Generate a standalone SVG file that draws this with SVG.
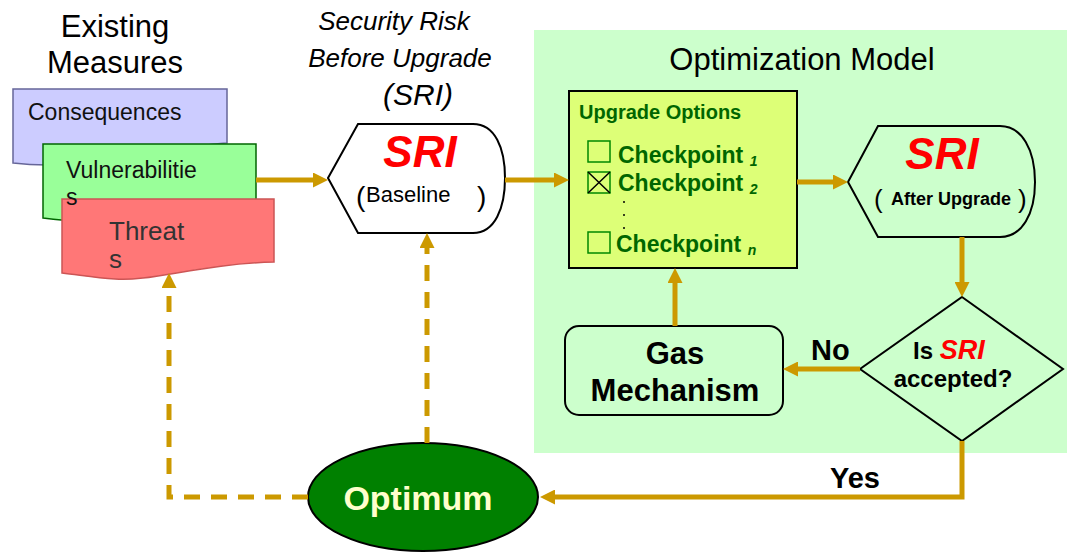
<svg xmlns="http://www.w3.org/2000/svg" width="1067" height="552" viewBox="0 0 1067 552">
<style>
text{font-family:"Liberation Sans",Arial,sans-serif}
.b{font-weight:bold}
.i{font-style:italic}
.red{fill:#ff0000;font-weight:bold;font-style:italic}
.dg{fill:#006600;font-weight:bold}
.conn{fill:none;stroke:#cc9900;stroke-width:5}
.dash{stroke-dasharray:16 11}
.ol{stroke:#000;stroke-width:2}
</style>
<defs>
<marker id="ah" viewBox="0 0 10 10" markerUnits="userSpaceOnUse" markerWidth="15" markerHeight="15" refX="2" refY="5" orient="auto">
<path d="M0,0 L10,5 L0,10 Z" fill="#cc9900"/>
</marker>
</defs>
<rect width="1067" height="552" fill="#ffffff"/>
<rect id="opt-bg" x="534" y="30" width="533" height="423" fill="#ccffcc"/>
<text x="802" y="70" font-size="31" text-anchor="middle" fill="#000">Optimization Model</text>

<g id="title-existing">
<text x="115" y="37" font-size="31" text-anchor="middle">Existing</text>
<text x="115" y="73" font-size="31" text-anchor="middle">Measures</text>
</g>
<g id="title-sri">
<text x="394" y="30" font-size="26" class="i" text-anchor="middle">Security Risk</text>
<text x="400" y="67" font-size="26" class="i" text-anchor="middle">Before Upgrade</text>
<text x="418" y="105" font-size="30" class="i" text-anchor="middle">(SRI)</text>
</g>

<g id="consequences">
<path d="M13,89 H227 V143 C160,147 90,172 13,163 Z" fill="#ccccff" stroke="#666699" stroke-width="1.5"/>
<text x="28" y="120" font-size="23" fill="#111">Consequences</text>
</g>
<g id="vulnerabilities">
<path d="M43,144 H256 V208 C180,210 110,228 43,218 Z" fill="#99ff99" stroke="#006600" stroke-width="1.5"/>
</g>
<g id="threats">
<path d="M62,199 H274 V262 C200,264 150,282 115,279 C95,278 80,275 62,273 Z" fill="#ff7777" stroke="#cc5555" stroke-width="1.5"/>
<text x="109" y="240" font-size="26" fill="#333">Threat</text>
<text x="109" y="268" font-size="26" fill="#333">s</text>
</g>
<g id="vulnerabilities-label">
<text x="66" y="178" font-size="23" fill="#111">Vulnerabilitie</text>
<text x="66" y="205" font-size="23" fill="#111">s</text>
</g>

<g id="sri-baseline">
<path d="M328,178 L358,124 H473 C495,124 505,148 505,178 C505,208 495,233 473,233 H358 Z" fill="#ffffff" class="ol"/>
<text x="420" y="167" font-size="44" class="red" text-anchor="middle">SRI</text>
<text x="356" y="206" font-size="28">(</text>
<text x="366" y="202" font-size="22">Baseline</text>
<text x="477" y="206" font-size="28">)</text>
</g>

<g id="upgrade-options">
<rect x="569" y="91" width="228" height="177" fill="#ddff77" class="ol"/>
<text x="579" y="119" font-size="20" class="dg">Upgrade Options</text>
<rect x="588" y="141" width="22" height="21" fill="none" stroke="#008800" stroke-width="1.5"/>
<rect x="588" y="172" width="22" height="21" fill="none" stroke="#008800" stroke-width="1.5"/>
<path d="M588,172 L610,193 M610,172 L588,193" stroke="#000" stroke-width="1.5"/>
<rect x="588" y="232" width="22" height="21" fill="none" stroke="#008800" stroke-width="1.5"/>
<text x="618" y="163" font-size="23" class="dg">Checkpoint <tspan font-size="14" font-style="italic" dy="3">1</tspan></text>
<text x="618" y="191" font-size="23" class="dg">Checkpoint <tspan font-size="14" font-style="italic" dy="3">2</tspan></text>
<text x="616" y="252" font-size="23" class="dg">Checkpoint <tspan font-size="14" font-style="italic" dy="3">n</tspan></text>
<circle cx="624" cy="202" r="1" fill="#000"/>
<circle cx="624" cy="215" r="1" fill="#000"/>
<circle cx="624" cy="228" r="1" fill="#000"/>
</g>

<g id="sri-after">
<path d="M848,182 L878,126 H1000 C1022,126 1035,150 1035,182 C1035,214 1022,237 1000,237 H878 Z" fill="#ccffcc" class="ol"/>
<text x="942" y="169" font-size="44" class="red" text-anchor="middle">SRI</text>
<text x="874" y="208" font-size="26">(</text>
<text x="951" y="205" font-size="18" class="b" text-anchor="middle">After Upgrade</text>
<text x="1018" y="208" font-size="26">)</text>
</g>

<g id="decision">
<path d="M962,297 L1063,369 L962,441 L860,369 Z" fill="#ccffcc" class="ol"/>
<text x="913" y="359" font-size="24" class="b">Is <tspan class="red" font-size="27">SRI</tspan></text>
<text x="953" y="387" font-size="24" class="b" text-anchor="middle">accepted?</text>
</g>

<g id="gas-mechanism">
<rect x="565" y="326" width="218" height="89" rx="14" fill="#ccffcc" class="ol"/>
<text x="675" y="364" font-size="31" class="b" text-anchor="middle">Gas</text>
<text x="675" y="401" font-size="31" class="b" text-anchor="middle">Mechanism</text>
</g>

<g id="optimum">
<ellipse cx="423" cy="497" rx="115" ry="54" fill="#008000" stroke="#000" stroke-width="2"/>
<text x="418" y="510" font-size="34" class="b" fill="#ffffcc" text-anchor="middle">Optimum</text>
</g>

<g id="connectors">
<path class="conn" d="M256,180 H316" marker-end="url(#ah)"/>
<path class="conn" d="M505,180 H557" marker-end="url(#ah)"/>
<path class="conn" d="M797,182 H836" marker-end="url(#ah)"/>
<path class="conn" d="M962,237 V285" marker-end="url(#ah)"/>
<path class="conn" d="M860,369 H795" marker-end="url(#ah)"/>
<path class="conn" d="M675,326 V280" marker-end="url(#ah)"/>
<path class="conn" d="M962,441 V497 H552" marker-end="url(#ah)"/>
<path class="conn dash" d="M427,443 V245" marker-end="url(#ah)"/>
<path class="conn dash" d="M308,497 H169 V285" marker-end="url(#ah)"/>
<text x="811" y="360" font-size="29" class="b">No</text>
<text x="830" y="488" font-size="29" class="b">Yes</text>
</g>
</svg>
